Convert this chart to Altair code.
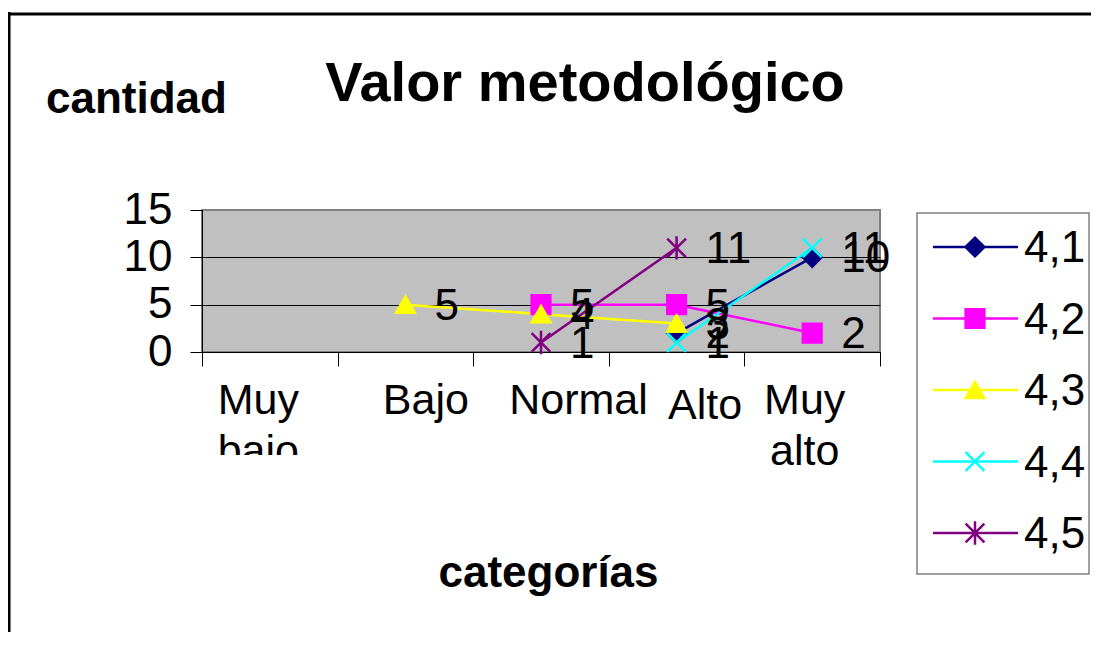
import altair as alt
import pandas as pd

FONT = "Liberation Sans"

categories = ["Muy bajo", "Bajo", "Normal", "Alto", "Muy alto"]
series_names = ["4,1", "4,2", "4,3", "4,4", "4,5"]
s41 = [None, None, None, 2, 10]
s42 = [None, None, 5, 5, 2]
s43 = [None, 5, 4, 3, None]
s44 = [None, None, None, 1, 11]
s45 = [None, None, 1, 11, None]
colors = ["#000080", "#FF00FF", "#FFFF00", "#00FFFF", "#800080"]
shapes = ["diamond", "square", "triangle-up",
          "M-1,-1L1,1M-1,1L1,-1",
          "M-1,-1L1,1M-1,1L1,-1M0,-1.25L0,1.25"]
y_ticks = [0, 5, 10, 15]

rows = []
for name, vals in zip(series_names, [s41, s42, s43, s44, s45]):
    for c, v in zip(categories, vals):
        if v is not None:
            rows.append({"categoria": c, "serie": name, "cantidad": v, "etiqueta": str(v)})
df = pd.DataFrame(rows)
legend_df = pd.DataFrame({"serie": series_names})
one = pd.DataFrame({"k": [0]})

color_scale = alt.Scale(domain=series_names, range=colors)
shape_scale = alt.Scale(domain=series_names, range=shapes)

x_enc = alt.X(
    "categoria:N", sort=categories, bandPosition=0.5,
    scale=alt.Scale(type="band", domain=categories, paddingInner=0, paddingOuter=0),
    axis=alt.Axis(
        title="categorías", titleFont=FONT, titleFontSize=44, titleFontWeight="bold",
        titleColor="black", titleX=346, titleY=234, titleAlign="center",
        titleBaseline="alphabetic",
        labelExpr="(datum.label == 'Muy bajo' || datum.label == 'Muy alto') ? split(datum.label, ' ') : datum.label",
        labelFont=FONT, labelFontSize=43, labelColor="black", labelAngle=0,
        labelBaseline="top", labelLineHeight=51, labelLimit=0, labelOverlap=False,
        labelFlush=False,
        labelPadding={"condition": {"test": "datum.value == 'Alto'", "value": 18}, "value": 13},
        labelOffset={"condition": [
            {"test": "datum.value == 'Muy bajo'", "value": -12},
            {"test": "datum.value == 'Bajo'", "value": 20},
            {"test": "datum.value == 'Normal'", "value": 37},
            {"test": "datum.value == 'Alto'", "value": 28}], "value": -8},
        tickBand="extent", tickSize=14, tickColor="black", tickWidth=1,
        domainColor="black", domainWidth=1, grid=False,
    ),
)

y_enc = alt.Y(
    "cantidad:Q",
    scale=alt.Scale(domain=[0, 15], nice=False, zero=True),
    axis=alt.Axis(
        values=y_ticks, title="cantidad", titleAngle=0, titleX=-66, titleY=-98,
        titleAlign="center", titleBaseline="alphabetic", titleFont=FONT,
        titleFontSize=44, titleFontWeight="bold", titleColor="black",
        labelFont=FONT, labelFontSize=44, labelColor="black", labelPadding=18,
        labelFlush=False, labelOverlap=False,
        tickSize=12, tickColor="black", tickWidth=1,
        domainColor="black", domainWidth=1,
        grid=True, gridWidth=1,
        gridColor={"condition": {"test": "datum.value == 15", "value": "transparent"}, "value": "black"},
    ),
)

base = alt.Chart(df).encode(x=x_enc, y=y_enc)

lines = base.mark_line(strokeWidth=2.5).encode(
    color=alt.Color("serie:N", scale=color_scale, legend=None)
)
points = base.mark_point(filled=True, opacity=1, strokeWidth=2.5, size=350).encode(
    color=alt.Color("serie:N", scale=color_scale, legend=None),
    stroke=alt.Stroke("serie:N", scale=color_scale, legend=None),
    shape=alt.Shape("serie:N", scale=shape_scale, legend=None),
)
labels = base.mark_text(
    align="left", baseline="middle", dx=29, dy=2, font=FONT, fontSize=44, color="black"
).encode(text="etiqueta:N")

main = alt.layer(lines, points, labels)

# annotations: frame, title, legend, label clip
frame_top = alt.Chart(one).mark_rule(color="black", strokeWidth=3).encode(
    x=alt.value(-195), x2=alt.value(1000), y=alt.value(-196))
frame_left = alt.Chart(one).mark_rule(color="black", strokeWidth=3).encode(
    x=alt.value(-193), y=alt.value(-198), y2=alt.value(600))
title = alt.Chart(one).mark_text(
    align="center", baseline="alphabetic", font=FONT, fontSize=56,
    fontWeight="bold", color="black"
).encode(x=alt.value(383), y=alt.value(-109), text=alt.value("Valor metodológico"))
clip_rect = alt.Chart(one).mark_rect(color="white").encode(
    x=alt.value(8), x2=alt.value(133), y=alt.value(245), y2=alt.value(330))

leg_box = alt.Chart(one).mark_rect(fill="white", stroke="#808080", strokeWidth=1.5).encode(
    x=alt.value(715), x2=alt.value(887), y=alt.value(3), y2=alt.value(364))
leg_y = alt.Y("serie:N", scale=alt.Scale(type="point", domain=series_names,
                                          range=[37, 323], padding=0), axis=None)
leg_lines = alt.Chart(legend_df).mark_rule(strokeWidth=2.5).encode(
    x=alt.value(731), x2=alt.value(816), y=leg_y,
    color=alt.Color("serie:N", scale=color_scale, legend=None))
leg_points = alt.Chart(legend_df).mark_point(filled=True, opacity=1, strokeWidth=2.5, size=350).encode(
    x=alt.value(773), y=leg_y,
    color=alt.Color("serie:N", scale=color_scale, legend=None),
    stroke=alt.Stroke("serie:N", scale=color_scale, legend=None),
    shape=alt.Shape("serie:N", scale=shape_scale, legend=None))
leg_text = alt.Chart(legend_df).mark_text(
    align="left", baseline="middle", font=FONT, fontSize=44, color="black", dy=2
).encode(x=alt.value(822), y=leg_y, text="serie:N")

annot = alt.layer(frame_top, frame_left, title, clip_rect, leg_box, leg_lines, leg_points, leg_text)

chart = alt.layer(main, annot).resolve_scale(y="independent").properties(
    width=678, height=142,
    padding={"left": 194, "top": 202, "right": 211, "bottom": 280},
    autosize=alt.AutoSizeParams(type="none"),
    background="white",
).configure_view(fill="#C0C0C0", stroke="#808080", strokeWidth=2)

chart.save("out.html", embed_options={"renderer": "svg", "actions": False})
